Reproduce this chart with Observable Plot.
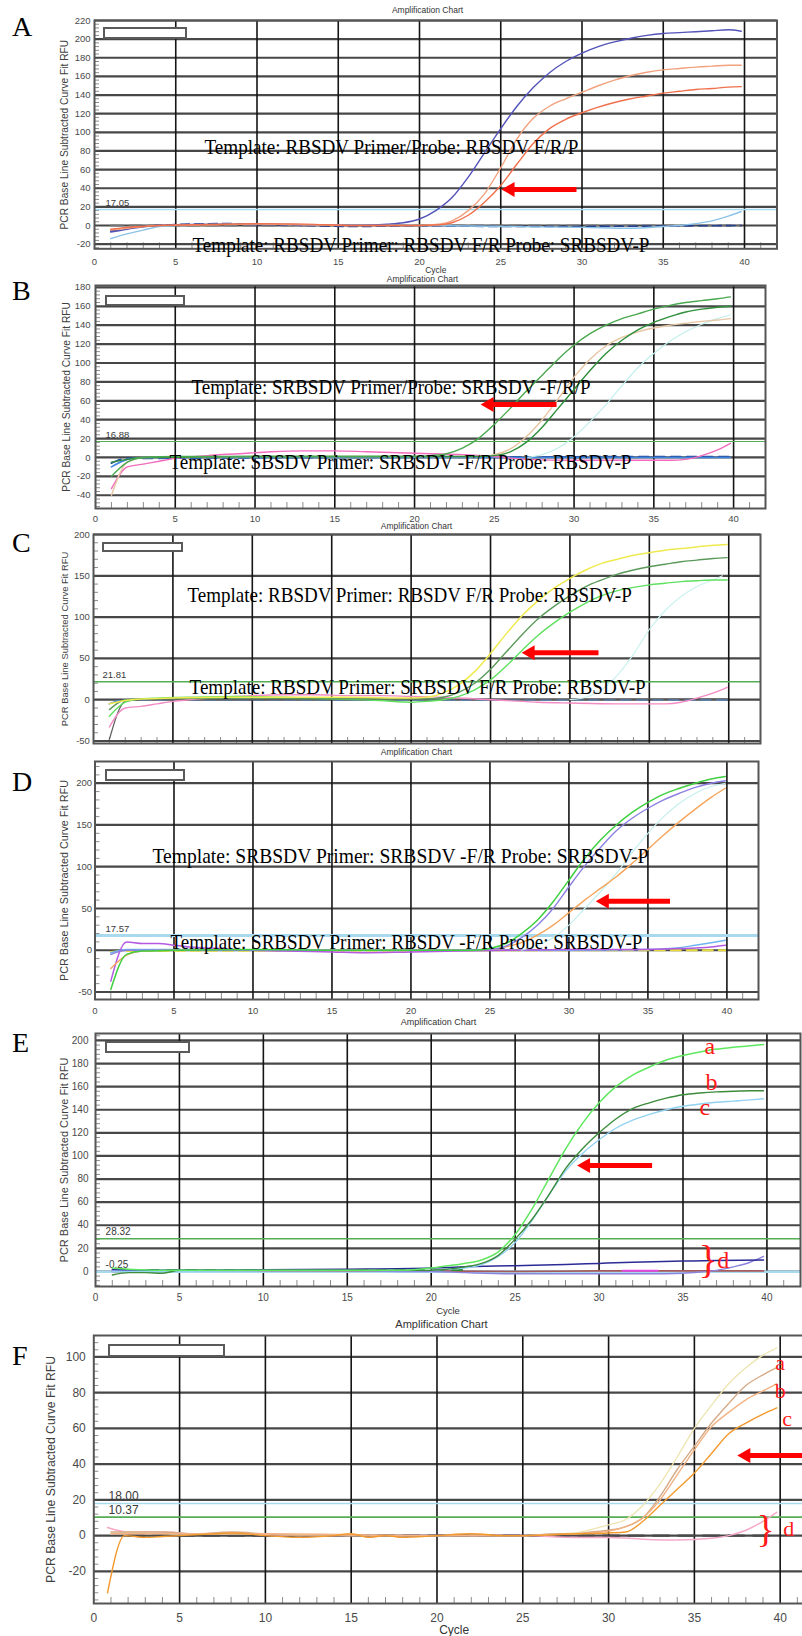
<!DOCTYPE html>
<html><head><meta charset="utf-8">
<script src="https://cdn.jsdelivr.net/npm/d3@7"></script>
<script src="https://cdn.jsdelivr.net/npm/@observablehq/plot@0.6"></script>
<style>
html,body{margin:0;padding:0;background:#fff;overflow:hidden}
#page{position:relative;width:802px;height:1636px;overflow:hidden;background:#fff}
#page svg{position:absolute;left:0}
.letter{position:absolute;left:12px;font-family:"Liberation Serif","Times New Roman",serif;font-size:28px;line-height:28px;color:#000}
.box{position:absolute;border:2px solid #5a5a5a;background:#fff;box-sizing:border-box}
</style></head><body><div id="page"></div><script>
// ---------- text / ticks ----------
const panelLetters = ["A","B","C","D","E","F"];
const chartTitle = "Amplification Chart";
const yAxisTitle = "PCR Base Line Subtracted Curve Fit RFU";
const xAxisTitle = "Cycle";
const xTickValues = [0,5,10,15,20,25,30,35,40];
const xGridValues = [5,10,15,20,25,30,35,40];
const yTicksA = [-20,0,20,40,60,80,100,120,140,160,180,200,220];
const yTicksB = [-40,-20,0,20,40,60,80,100,120,140,160,180];
const yTicksC = [-50,0,50,100,150,200];
const yTicksD = [-50,0,50,100,150,200];
const yTicksE = [0,20,40,60,80,100,120,140,160,180,200];
const yTicksF = [-20,0,20,40,60,80,100];
const thresholdA = [17.05];
const thresholdB = [16.88];
const thresholdC = [21.81];
const thresholdD = [17.57];
const thresholdE = [28.32, -0.25];
const thresholdF = [18.00, 10.37];
const notesA = ["Template: RBSDV Primer/Probe: RBSDV F/R/P", "Template: RBSDV Primer: RBSDV F/R Probe: SRBSDV-P"];
const notesB = ["Template: SRBSDV Primer/Probe: SRBSDV -F/R/P", "Template: SBSDV Primer: SRBSDV -F/R Probe: RBSDV-P"];
const notesC = ["Template: RBSDV Primer: RBSDV F/R Probe: RBSDV-P", "Template: RBSDV Primer: SRBSDV F/R Probe: RBSDV-P"];
const notesD = ["Template: SRBSDV Primer: SRBSDV -F/R Probe: SRBSDV-P", "Template: SRBSDV Primer: RBSDV -F/R Probe: SRBSDV-P"];
const sampleLabels = ["a","b","c","d"];

// ---------- curves: [cycle, RFU] ----------
const A_blue = [[1,-7],[2,-4],[3,-1.5],[4,0],[6,1],[8,1.5],[10,1],[12,1],[14,0.5],[16,0.3],[17,0.6],[18,1.5],[19,3],[20,7],[21,16],[22,30],[23,52],[24,78],[25,104],[26,128],[27,148],[28,164],[29,176],[30,185],[31,192],[32,197],[33,201],[34,204],[35,206],[36,207],[37,208],[38,209],[39,210],[39.8,208.5]];
const A_orange = [[1,-5],[2,-3],[3,-1],[4,0],[6,0.5],[8,1],[10,1.5],[12,1],[14,0.5],[16,0],[18,0],[20,0],[21,1],[22,5],[23,16],[24,34],[25,62],[26,93],[27,115],[28,128],[29,136],[30,143],[31,150],[32,156],[33,161],[34,164.5],[35,167],[36,168.5],[37,170],[38,171],[39,172],[39.8,172]];
const A_red = [[1,-4],[2,-2],[3,-1],[4,0],[7,1],[10,2],[13,1.5],[16,0],[20,0],[21,0.5],[22,3],[23,11],[24,25],[25,43],[26,66],[27,88],[28,104],[29,114],[30,121],[31,127],[32,132],[33,136],[34,139],[35,142],[36,144],[37,146],[38,147],[39,148.5],[39.8,149]];
const A_lightblue = [[1,-14],[2,-9],[3,-5],[4,-1],[5,0],[8,1.5],[10,1.5],[15,0.5],[20,0],[25,-1],[30,-2],[33,-3],[35,-1],[36,0],[37,2],[38,5],[39,10],[39.8,15]];
const A_navy = [[1,-6],[2,-3],[3,-1],[5,1],[8,2],[10,1.5],[13,0],[16,-1],[20,-0.5],[25,-1],[30,-1],[35,-0.5],[39.8,0]];
const A_gray = [[1,0],[39.8,0]];

const B_green1 = [[1,-20],[2,-5],[3,0],[5,1],[10,1],[15,1],[20,1],[21,2],[22,4],[23,10],[24,20],[25,35],[26,52],[27,70],[28,87],[29,104],[30,119],[31,131],[32,140],[33,147],[34,152],[35,157],[36,161],[37,164],[38,166],[39,168],[39.8,170]];
const B_green2 = [[1,-5],[2,-2],[3,0],[10,1],[20,1],[24,1],[25,2],[26,6],[27,16],[28,32],[29,52],[30,72],[31,92],[32,110],[33,124],[34,135],[35,143],[36,149],[37,154],[38,157],[39,159],[39.8,160]];
const B_tan = [[1,-40],[2,-5],[3,0],[10,1],[20,1],[24,1],[25,3],[26,9],[27,22],[28,40],[29,62],[30,85],[31,104],[32,118],[33,127],[34,133],[35,137],[36,140],[37,142],[38,144],[39,145.5],[39.8,147]];
const B_cyan = [[27,0],[28,3],[29,10],[30,22],[31,38],[32,56],[33,76],[34,95],[35,110],[36,123],[37,133],[38,141],[39,147],[39.8,151]];
const B_pink = [[1,-33],[2,-10],[3,-7],[4,-4],[5,-1],[7,2],[9,4],[11,6],[13,7],[15,7],[17,6],[19,5],[21,4],[23,3],[25,1],[27,-2],[30,-3],[33,-3],[36,-3],[37,-2],[38,2],[39,8],[39.8,15]];
const B_blue = [[1,-10],[2,-2],[3,0],[39.8,0]];
const B_navy = [[1,-6],[2,-1],[39.8,1]];

const C_yellow = [[1,-5],[2,-1],[3,1],[8,3],[12,3],[16,3],[20,2],[21,3],[22,8],[23,18],[24,34],[25,56],[26,80],[27,102],[28,120],[29,135],[30,147],[31,157],[32,165],[33,170],[34,175],[35,178],[36,181],[37,183],[38,185],[39,187],[39.9,188]];
const C_dkgreen = [[1,-12],[2,0],[3,1],[10,2],[15,1],[21,1],[22,3],[23,9],[24,20],[25,37],[26,58],[27,79],[28,98],[29,113],[30,126],[31,137],[32,145],[33,152],[34,157],[35,161],[36,164],[37,167],[38,169],[39,171],[39.9,172]];
const C_ltgreen = [[1,-20],[2,-3],[3,1],[6,3],[9,4],[12,3],[15,1],[18,-1],[20,-3],[21,-2],[22,0],[23,4],[24,12],[25,24],[26,41],[27,60],[28,78],[29,93],[30,106],[31,117],[32,126],[33,132],[34,136],[35,139],[36,141],[37,143],[38,144],[39,145],[39.9,145]];
const C_cyan = [[30,0],[31,3],[32,12],[33,30],[34,55],[35,85],[36,108],[37,125],[38,137],[39,145],[39.6,150]];
const C_pink = [[1,-33],[2,-10],[3,-8],[4,-5],[5,-2],[6,0],[8,3],[10,5],[12,6],[14,6],[16,5],[18,5],[20,4],[22,3],[24,1],[26,-1],[28,-3],[30,-4],[33,-5],[36,-5],[37,-3],[38,2],[39,8],[39.9,15]];
const C_gray = [[1,-48],[2,-2],[3,0],[39.9,1]];
const C_blue = [[1,-5],[2,0],[39.9,0]];

const D_green = [[1,-47],[2,-5],[3,-1],[5,0],[10,1],[15,0],[20,0],[24,0],[25,2],[26,8],[27,20],[28,36],[29,58],[30,84],[31,110],[32,132],[33,150],[34,165],[35,177],[36,187],[37,194],[38,200],[39,205],[39.9,208]];
const D_purple = [[1,-5],[2,0],[10,0],[20,0],[25,1],[26,5],[27,15],[28,30],[29,50],[30,76],[31,101],[32,123],[33,143],[34,158],[35,170],[36,180],[37,188],[38,195],[39,200],[39.9,203]];
const D_cyan = [[27,0],[28,6],[29,15],[30,30],[31,50],[32,70],[33,92],[34,117],[35,140],[36,160],[37,176],[38,188],[39,196],[39.9,200]];
const D_orange = [[1,-22],[2,-6],[3,-1],[5,0],[20,0],[25,1],[26,4],[27,9],[28,18],[29,30],[30,45],[31,60],[32,74],[33,88],[34,104],[35,121],[36,138],[37,154],[38,169],[39,183],[39.9,194]];
const D_violet = [[1,-37],[2,10],[3,8],[4,8],[5,6],[6,4],[8,2],[10,0],[12,-1],[15,-2],[17,-3],[20,-2],[23,-1],[26,0],[30,1],[34,1],[37,2],[39,4],[39.9,6]];
const D_lightblue = [[1,-3],[2,1],[5,1],[20,0],[30,0],[35,1],[37,3],[38,6],[39,9],[39.9,12]];
const D_yellow = [[1,-2],[2,-1],[39.9,0]];

const E_a = [[1,3],[2,2],[4,1],[10,1],[15,1],[18,1],[20,3],[21,5],[22,7],[23,10],[24,17],[25,32],[26,54],[27,80],[28,106],[29,128],[30,146],[31,160],[32,170],[33,177],[34,183],[35,187],[36,190],[37,192.5],[38,194],[39,195.5],[39.8,196.5]];
const E_b = [[1,-3],[2,-1],[3,-1],[4,-1.5],[5,1],[10,1],[20,1],[21,2],[22,4],[23,7],[24,14],[25,28],[26,45],[27,66],[28,89],[29,106],[30,120],[31,132],[32,141],[33,146],[34,150],[35,153],[36,154.5],[37,155.5],[38,156],[39,156.5],[39.8,156.5]];
const E_c = [[1,0],[10,0.5],[20,1],[21,2],[22,3],[23,6],[24,13],[25,25],[26,44],[27,66],[28,87],[29,102],[30,114],[31,124],[32,131],[33,136],[34,140],[35,143],[36,145],[37,146.5],[38,147.5],[39,148.5],[39.8,149.5]];
const E_d1 = [[1,2],[3,1],[5,1],[10,1.5],[15,2],[20,3],[22,4],[25,5],[28,6],[30,7],[32,8],[35,9],[37,9.5],[39.8,10]];
const E_d2 = [[1,1],[5,1],[10,1],[15,1],[18,0],[20,0],[22,-1],[25,-2],[30,-2],[33,-2],[35,-1.5],[36,-0.5],[37,1],[38,4],[39,8],[39.8,13]];
const E_d3 = [[1,0],[5,0.5],[10,0.5],[20,0.5],[25,0],[30,0.5],[35,0.5],[39.8,0.5]];
const E_d4 = [[31.4,0.6],[33.5,0.6]];
const E_dash = [[2,1.2],[22,1.2]];

const F_pale = [[1,1],[2,2],[5,1],[10,1],[15,0],[20,0],[25,0],[27,1],[28,1.5],[29,3.5],[30,6],[31,9],[32,17],[33,29],[34,44],[35,60],[36,73],[37,85],[38,94],[39,101],[39.8,105]];
const F_tan = [[1,2],[2,2],[4,2],[6,1],[8,2],[10,1],[12,0],[15,0],[20,0],[25,0],[27,1],[28,1],[29,2],[30,3],[31,5],[32,10],[33,22],[34,37],[35,50],[36,63],[37,74],[38,84],[39,90],[39.8,94]];
const F_ltorange = [[1,1],[2,1],[10,1],[20,0],[25,0],[28,1],[29,1.5],[30,2.5],[31,5],[32,10],[33,20],[34,34],[35,48],[36,61],[37,69],[38,76],[39,81],[39.8,85]];
const F_orange = [[0.8,-32],[1.8,0],[3,-1],[4,-0.5],[5,0],[7,1],[8,1.5],[10,0],[12,-1],[14,0],[15,1],[16,-1],[17,0],[18,-1],[20,0],[22,1],[24,0],[25,0],[28,1],[30,1.5],[31,2],[32,8],[33,17],[34,26],[35,35],[36,46],[37,57],[38,63],[39,68],[39.8,71.5]];
const F_pink = [[0.8,4.5],[2,2],[4,2],[6,1],[8,1.5],[10,0.5],[15,0],[20,0],[25,0],[28,-1],[30,-1],[32,-2],[34,-2.5],[36,-1.5],[37,0],[38,3],[39,8],[39.8,13]];
const F_dash = [[2,0],[39.8,0]];

// ---------- panel layout ----------
const SERIF = "Liberation Serif, Times New Roman, serif";
const SANS = "Liberation Sans, Arial, Helvetica, sans-serif";
const LB = "#a9d9ee", GR = "#55ad55";
const panels = [
  {letter:0, letterY:28, frameTop:20, frameBottom:248.3, ml:94, frameRight:776.5, yMin:-25, yMax:220, yTicks:yTicksA, yMinorStep:4,
   showX:true, xPad:9, yPad:4, tickFs:9.5, titleY:10, titleX:427, titleFs:8.5, cycleY:270, cycleFs:8.5, yLabX:64, yLabFs:10.2, mb:30,
   box:[103,27,84,12],
   thresholds:[{v:thresholdA[0], c:LB, w:1.5, lx:0.68}],
   curves:[[A_gray,"#777",2,"12,7"],[A_navy,"#27408f",1.6,"9,5"],[A_lightblue,"#8cc3e8",1.4],[A_blue,"#5353b9",1.4],[A_orange,"#f2a27e",1.4],[A_red,"#f0704c",1.4]],
   notes:[{t:notesA[0],x1:6.77,x2:29.78,y:83.9,fs:21},{t:notesA[1],x1:6.03,x2:34.15,y:-22,fs:20}],
   arrows:[{x1:29.66,x2:25.05,y:38.7}], red:[]},
  {letter:1, letterY:292, frameTop:285, frameBottom:508, ml:95, frameRight:765, yMin:-54, yMax:182, yTicks:yTicksB, yMinorStep:4,
   showX:true, xPad:6.5, yPad:5, tickFs:9.5, titleY:279, titleX:422, titleFs:8.5, yLabX:66, yLabFs:10.2, mb:16,
   box:[105,295,80,11],
   thresholds:[{v:thresholdB[0], c:GR, w:1.2, lx:0.63}],
   curves:[[B_navy,"#2a4f9e",1.8,"10,6"],[B_blue,"#3f86e0",1.6],[B_cyan,"#c3efec",1.2],[B_pink,"#f26bbd",1.4],[B_tan,"#e6c5a3",1.4],[B_green2,"#2f8f3a",1.4],[B_green1,"#4aa84f",1.4]],
   notes:[{t:notesB[0],x1:6.02,x2:31.03,y:74.2,fs:21},{t:notesB[1],x1:4.64,x2:33.6,y:-5.3,fs:21}],
   arrows:[{x1:28.9,x2:24.14,y:56}], red:[]},
  {letter:2, letterY:544, frameTop:534, frameBottom:743, ml:93, frameRight:760, yMin:-53, yMax:200, yTicks:yTicksC, yMinorStep:10,
   showX:false, xPad:6, yPad:3.6, tickFs:9.5, titleY:526, titleX:416, titleFs:8.5, yLabX:64, yLabFs:9.4, mb:14,
   box:[102,542,81,10],
   thresholds:[{v:thresholdC[0], c:GR, w:1.4, lx:0.57}],
   curves:[[C_blue,"#4a8ad8",1.6,"10,6"],[C_gray,"#606060",1.3],[C_cyan,"#cbf3ee",1.2],[C_pink,"#f28cc4",1.4],[C_ltgreen,"#5fe05f",1.4],[C_dkgreen,"#5c9a5c",1.4],[C_yellow,"#efea50",1.5]],
   notes:[{t:notesC[0],x1:5.92,x2:33.89,y:125.9,fs:21},{t:notesC[1],x1:6.05,x2:34.77,y:14.5,fs:21}],
   arrows:[{x1:31.8,x2:26.96,y:56.9}], red:[]},
  {letter:3, letterY:783, frameTop:761, frameBottom:999, ml:94.5, frameRight:758, yMin:-59, yMax:226, yTicks:yTicksD, yMinorStep:10,
   showX:true, xPad:7.5, yPad:3, tickFs:9.5, titleY:752, titleX:416, titleFs:8.5, yLabX:64, yLabFs:10.8, mb:16,
   box:[105,769,80,12],
   thresholds:[{v:thresholdD[0], c:LB, w:3, lx:0.66}],
   curves:[[D_yellow,"#e6dc3c",1.8,"10,6"],[D_lightblue,"#70b3ef",1.5],[D_violet,"#b35ae0",1.5],[D_cyan,"#c5f0ee",1.2],[D_orange,"#f5a55c",1.4],[D_purple,"#8b80e2",1.4],[D_green,"#40cf40",1.5]],
   notes:[{t:notesD[0],x1:3.64,x2:35.03,y:112.6,fs:22},{t:notesD[1],x1:4.78,x2:34.65,y:9.6,fs:21}],
   arrows:[{x1:36.4,x2:31.7,y:58.7}], red:[]},
  {letter:4, letterY:1044, frameTop:1033, frameBottom:1286, ml:95, frameRight:800, yMin:-13, yMax:206, yTicks:yTicksE, yMinorStep:4,
   showX:true, xPad:7.5, yPad:7, tickFs:10, titleY:1022, titleX:438, titleFs:9, cycleY:1310, cycleFs:9.5, yLabX:64, yLabFs:11, mb:30,
   box:[105,1041,85,12],
   thresholds:[{v:thresholdE[0], c:GR, w:1.4, lx:0.6},{v:thresholdE[1], c:LB, w:2.6, lx:0.6}],
   curves:[[E_d3,"#a65a5a",1.6],[E_dash,"#2e8b2e",2,"10,9"],[E_d4,"#e04ae0",2],[E_d2,"#8c84dc",1.4],[E_d1,"#2b2b96",1.5],[E_c,"#94d2f2",1.4],[E_b,"#3c8c3c",1.4],[E_a,"#5fe85f",1.5]],
   notes:[], arrows:[{x1:33.16,x2:28.69,y:91.8}],
   red:[{t:sampleLabels[0],x:36.6,y:194.8,fs:24},{t:sampleLabels[1],x:36.7,y:163.9,fs:24},{t:sampleLabels[2],x:36.3,y:142.2,fs:24},{t:sampleLabels[3],x:37.4,y:9.5,fs:24},{t:"}",x:36.5,y:10,fs:40}]},
  {letter:5, letterY:1357, frameTop:1335, frameBottom:1603, ml:93.3, frameRight:814, svgWidth:830, yMin:-38, yMax:112, yTicks:yTicksF, yMinorStep:4,
   showX:true, xPad:9.5, yPad:8, tickFs:12, titleY:1324, titleX:441, titleFs:11, cycleY:1630, cycleFs:12, yLabX:51, yLabFs:12.2, mb:33,
   box:[108,1344,117,13],
   thresholds:[{v:thresholdF[0], c:LB, w:1.6, lx:0.86},{v:thresholdF[1], c:GR, w:1.6, lx:0.86}],
   curves:[[F_dash,"#4a4a4a",2.2,"16,9"],[F_pink,"#f5a9c8",1.5],[F_pale,"#eee4b0",1.3],[F_tan,"#d6aa86",1.4],[F_ltorange,"#f2b283",1.4],[F_orange,"#f39a2e",1.4]],
   notes:[], arrows:[{x1:42,x2:37.5,y:44.8}],
   red:[{t:sampleLabels[0],x:40.0,y:96.9,fs:22},{t:sampleLabels[1],x:40.0,y:81.2,fs:22},{t:sampleLabels[2],x:40.4,y:65.5,fs:22},{t:sampleLabels[3],x:40.5,y:3.9,fs:22},{t:"}",x:39.15,y:3.5,fs:38}]}
];

// filled, left-pointing arrow head (tip at the point)
const leftHead = {draw(context) { context.moveTo(0, 0); context.lineTo(13, -7.5); context.lineTo(13, 7.5); context.closePath(); }};

const page = document.getElementById("page");
const XMAX = 42;

function makePanel(p) {
  const width = p.svgWidth || 802;
  const mt = 20;
  const fw = p.frameRight - p.ml;
  const fh = p.frameBottom - p.frameTop;
  const kx = fw / XMAX, ky = fh / (p.yMax - p.yMin);
  const height = mt + fh + p.mb;
  const xMinor = d3.range(1, XMAX, 1).filter(v => v % 5 !== 0);
  const yMinor = d3.range(Math.ceil(p.yMin / p.yMinorStep) * p.yMinorStep, p.yMax, p.yMinorStep);
  const fcx = (p.ml + p.frameRight) / 2;
  const marks = [
    Plot.ruleX(xMinor, {y1: p.yMin, y2: p.yMin + 6 / ky, stroke: "#8c8c8c", strokeWidth: 1}),
    Plot.ruleY(yMinor, {x1: 0, x2: 5 / kx, stroke: "#8c8c8c", strokeWidth: 1}),
    Plot.ruleY(p.yTicks, {stroke: "#474747", strokeWidth: 2.2}),
    Plot.ruleX(xGridValues, {stroke: "#151515", strokeWidth: 1.6})
  ];
  for (const t of p.thresholds) {
    marks.push(Plot.ruleY([t.v], {stroke: t.c, strokeWidth: t.w}));
    marks.push(Plot.text([t], {x: d => d.lx, y: d => d.v, text: d => d.v.toFixed(2), dy: -7, textAnchor: "start", lineAnchor: "middle", fontSize: p.tickFs, fill: "#3a3a3a", fontFamily: SANS}));
  }
  for (const [data, color, w, dash] of p.curves) {
    marks.push(Plot.line(data, {x: d => d[0], y: d => d[1], stroke: color, strokeWidth: w, curve: "monotone-x", strokeDasharray: dash || null}));
  }
  marks.push(Plot.frame({stroke: "#555", strokeWidth: 2}));
  if (p.notes.length) marks.push(Plot.text(p.notes, {x: "x1", y: "y", text: "t", textAnchor: "start", lineAnchor: "middle", fontSize: d => d.fs, fontFamily: SERIF, fill: "#000"}));
  // arrow: thick shaft + filled head
  marks.push(Plot.link(p.arrows, {x1: "x1", y1: "y", x2: d => d.x2 + 11 / kx, y2: "y", stroke: "#ff0000", strokeWidth: 5}));
  marks.push(Plot.dot(p.arrows, {x: "x2", y: "y", r: 5, symbol: leftHead, fill: "#ff0000", stroke: "none"}));
  if (p.red.length) marks.push(Plot.text(p.red, {x: "x", y: "y", text: "t", fontSize: d => d.fs, fontFamily: SERIF, fill: "#ff1a1a", lineAnchor: "middle"}));
  marks.push(Plot.text([chartTitle], {frameAnchor: "top", text: d => d, dx: p.titleX - fcx, dy: p.titleY - p.frameTop, lineAnchor: "middle", fontSize: p.titleFs, fill: "#333", fontFamily: SANS}));
  if (p.cycleY) marks.push(Plot.text([xAxisTitle], {frameAnchor: "bottom", text: d => d, dy: p.cycleY - p.frameBottom, lineAnchor: "middle", fontSize: p.cycleFs, fill: "#333", fontFamily: SANS}));
  marks.push(Plot.text([yAxisTitle], {frameAnchor: "left", text: d => d, rotate: -90, dx: p.yLabX - p.ml, textAnchor: "middle", lineAnchor: "middle", fontSize: p.yLabFs, fill: "#404040", fontFamily: SANS}));

  const svg = Plot.plot({
    width, height,
    marginTop: mt, marginBottom: p.mb, marginLeft: p.ml, marginRight: width - p.frameRight,
    x: {domain: [0, XMAX], ticks: xTickValues, tickSize: 0, tickPadding: p.xPad, tickFormat: d => String(d), label: null, axis: p.showX ? "bottom" : null},
    y: {domain: [p.yMin, p.yMax], ticks: p.yTicks, tickSize: 0, tickPadding: p.yPad, tickFormat: d => String(d), label: null},
    style: {fontSize: p.tickFs + "px", color: "#4a4a4a", fontFamily: SANS, background: "transparent"},
    marks
  });
  svg.style.position = "absolute";
  svg.style.top = (p.frameTop - mt) + "px";
  svg.style.left = "0px";
  svg.style.maxWidth = "none";
  page.appendChild(svg);
  // squeeze annotation text to its measured width
  for (const n of p.notes) {
    for (const el of svg.querySelectorAll("text")) {
      if (el.textContent === n.t) {
        el.setAttribute("textLength", ((n.x2 - n.x1) * kx).toFixed(1));
        el.setAttribute("lengthAdjust", "spacingAndGlyphs");
      }
    }
  }
  const b = document.createElement("div");
  b.className = "box";
  b.style.left = p.box[0] + "px"; b.style.top = p.box[1] + "px";
  b.style.width = p.box[2] + "px"; b.style.height = p.box[3] + "px";
  page.appendChild(b);
  const L = document.createElement("div");
  L.className = "letter";
  L.textContent = panelLetters[p.letter];
  L.style.top = (p.letterY - 15) + "px";
  page.appendChild(L);
}
panels.forEach(makePanel);
</script></body></html>
